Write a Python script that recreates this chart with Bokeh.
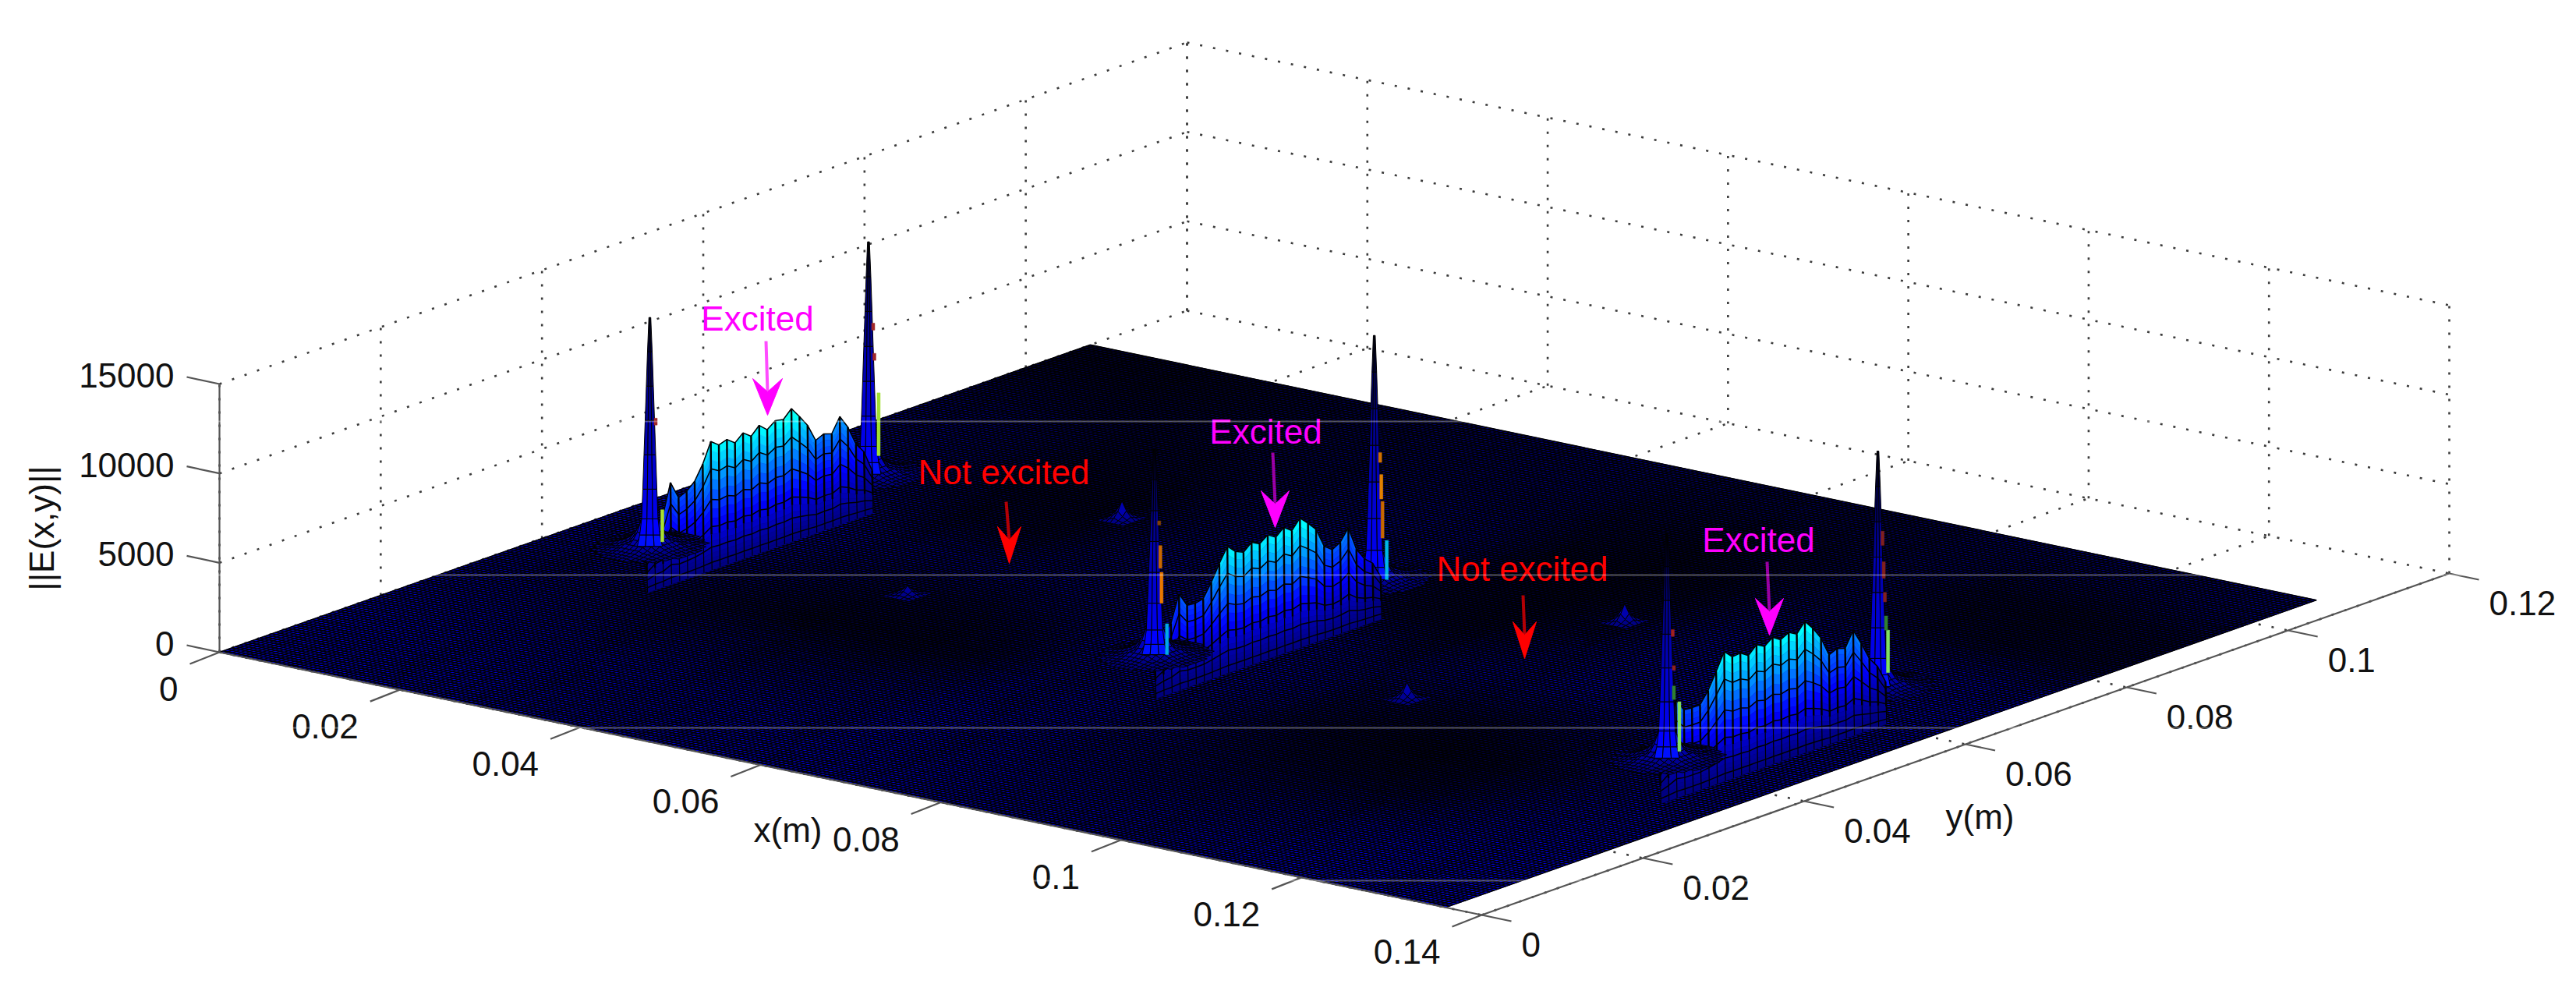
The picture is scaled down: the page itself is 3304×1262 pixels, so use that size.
import numpy as np
from bokeh.plotting import figure
from bokeh.models import Range1d, Span
from bokeh.core.properties import value
from bokeh.embed import file_html
from bokeh.resources import INLINE

# ---------- data ----------
X_TICKS = [0, 0.02, 0.04, 0.06, 0.08, 0.1, 0.12, 0.14]
X_LABELS = ["0", "0.02", "0.04", "0.06", "0.08", "0.1", "0.12", "0.14"]
Y_TICKS = [0, 0.02, 0.04, 0.06, 0.08, 0.1, 0.12]
Y_LABELS = ["0", "0.02", "0.04", "0.06", "0.08", "0.1", "0.12"]
Z_TICKS = [0, 5000, 10000, 15000]
Z_LABELS = ["0", "5000", "10000", "15000"]
X_MAX_SURF = 0.136
Y_MAX_SURF = 0.108

# ridge height along y (1 mm steps, starting 1 mm before the first spike) for each excited slot
RIDGE_1 = [0, 1200, 1500, 3300, 2300, 2500, 2900, 3700, 4800, 4450, 4600, 4250, 4650, 4300, 4750, 4350, 4700, 4600, 5050, 4450, 3800, 2800, 3000, 2850, 3650, 2900, 1800, 1200, 0]
RIDGE_2 = [0, 1000, 1500, 3000, 2200, 2150, 2250, 3000, 3900, 4700, 4250, 4050, 4450, 4200, 4550, 4250, 4650, 4300, 4850, 4400, 3900, 2800, 2450, 2700, 3350, 2000, 1300, 900, 0]
RIDGE_3 = [0, 1300, 3100, 2400, 2350, 2350, 3000, 3900, 4850, 4400, 4450, 4150, 4600, 4350, 4700, 4400, 4650, 4400, 4950, 4400, 3700, 2600, 2800, 2650, 3500, 2600, 1600, 1000, 0]
RIDGE_X = [0.0096, 0.0660, 0.1220]
RIDGE_Y0 = 0.0422
# share of the ridge height left at each row below the crest
FALLOFF = [1.0, 0.93, 0.85, 0.77, 0.68, 0.59, 0.50, 0.42, 0.34, 0.27, 0.21, 0.16, 0.12, 0.08, 0.05, 0.03, 0.01, 0.0]

# spikes: x, y, peak
SPIKE_X = [0.0091, 0.0101, 0.0657, 0.0662, 0.1219, 0.1225]
SPIKE_Y = [0.0432, 0.0692, 0.0425, 0.0692, 0.0432, 0.0687]
SPIKE_Z = [12800, 13000, 11500, 13650, 12600, 13170]
# skirt height round a spike, by ring (0.5 mm rings)
SKIRT = [2400, 1500, 900, 550, 350, 220, 130, 70, 30, 0]
# spike profile: height share and half width
SPIKE_FRAC = [0, 0.05, 0.12, 0.25, 0.40, 0.55, 0.70, 0.85, 1.0]
SPIKE_HALF = [16, 13, 10.5, 9, 7.5, 6, 4.5, 3, 1.2]
SPIKE_SHADE = ["#0010ff", "#0000ff", "#0000e8", "#0000d0", "#0000b0", "#000090", "#000068", "#000048"]
# coloured slivers on the right flank of each spike: from share, to share, colour
SLIVERS = [
    [(0.02, 0.16, "#a8e030"), (0.53, 0.56, "#a02828")],
    [(0.08, 0.35, "#a0e030"), (0.49, 0.52, "#a02828"), (0.62, 0.65, "#a02828")],
    [(0.0, 0.15, "#00a8e8"), (0.25, 0.40, "#e87800"), (0.42, 0.53, "#c86800"), (0.63, 0.65, "#804000")],
    [(0.0, 0.16, "#00b8e8"), (0.17, 0.32, "#c86800"), (0.33, 0.43, "#e08000"), (0.48, 0.52, "#d07000")],
    [(0.03, 0.25, "#80e060"), (0.26, 0.32, "#308030"), (0.39, 0.41, "#902020"), (0.54, 0.57, "#a02020")],
    [(0.06, 0.24, "#80e060"), (0.24, 0.30, "#308030"), (0.36, 0.40, "#802020"), (0.46, 0.53, "#802020"), (0.60, 0.66, "#802020")],
]

# small bumps above the slots that are not excited: x, y, height
MINI_X = [0.0366, 0.0366, 0.0920, 0.0920]
MINI_Y = [0.0444, 0.0710, 0.0444, 0.0714]
MINI_Z = [500, 1000, 900, 1000]
MINI_SHARE = [0, 0.2, 0.5, 1.0, 0.5, 0.2, 0]

# brightness of the floor mesh (0 dark .. 1 bright), rows y = 0..0.108, columns x = 0..0.136
FLOOR = [
    [0.8, 0.8, 0.8, 0.7, 0.7, 0.8, 0.8, 0.8, 0.7, 0.7, 0.7, 0.8, 0.9, 0.9],
    [0.8, 0.8, 0.7, 0.7, 0.7, 0.7, 0.8, 0.7, 0.6, 0.5, 0.5, 0.6, 0.8, 0.9],
    [0.7, 0.6, 0.5, 0.5, 0.4, 0.5, 0.7, 0.7, 0.5, 0.3, 0.2, 0.2, 0.6, 0.8],
    [0.6, 0.5, 0.25, 0.1, 0.1, 0.15, 0.6, 0.7, 0.5, 0.15, 0.05, 0.1, 0.5, 0.8],
    [0.7, 0.6, 0.4, 0.25, 0.2, 0.35, 0.8, 0.8, 0.6, 0.3, 0.2, 0.35, 0.7, 0.8],
    [0.8, 0.8, 0.6, 0.5, 0.5, 0.6, 0.8, 0.7, 0.4, 0.6, 0.7, 0.7, 0.8, 0.8],
    [0.7, 0.6, 0.25, 0.15, 0.5, 0.6, 0.7, 0.2, 0.1, 0.35, 0.7, 0.8, 0.8, 0.8],
    [0.6, 0.4, 0.1, 0.1, 0.4, 0.6, 0.6, 0.15, 0.05, 0.2, 0.6, 0.7, 0.7, 0.7],
    [0.5, 0.35, 0.15, 0.2, 0.4, 0.5, 0.5, 0.15, 0.05, 0.1, 0.5, 0.3, 0.15, 0.2],
    [0.3, 0.2, 0.2, 0.3, 0.35, 0.4, 0.4, 0.2, 0.1, 0.2, 0.4, 0.15, 0.1, 0.2],
    [0.1, 0.1, 0.2, 0.3, 0.35, 0.4, 0.4, 0.3, 0.3, 0.3, 0.4, 0.4, 0.4, 0.5],
]

LABELS_EXCITED = ["Excited", "Excited", "Excited"]
LABELS_NOT = ["Not excited", "Not excited"]

# ---------- page and projection ----------
p = figure(width=3288, height=1246, x_range=Range1d(0, 3288), y_range=Range1d(1246, 0),
           x_axis_type=None, y_axis_type=None, toolbar_location=None,
           output_backend="svg", min_border=0, outline_line_color=None)
FONT = value("Liberation Sans")


def proj(x, y, z=0.0):
    x, y, z = np.asarray(x, float), np.asarray(y, float), np.asarray(z, float)
    sx = 281 + x / 0.14 * 1619 + y / 0.12 * 1241
    sy = 836 + x / 0.14 * 337 - y / 0.12 * 438 - z / 15000 * 344
    return sx, sy


def jet(v):
    v = float(np.clip(v, 0, 1))
    r = np.clip(min(4 * v - 1.5, -4 * v + 4.5), 0, 1)
    g = np.clip(min(4 * v - 0.5, -4 * v + 3.5), 0, 1)
    b = np.clip(min(4 * v + 0.5, -4 * v + 2.5), 0, 1)
    return "#%02x%02x%02x" % (int(r * 255), int(g * 255), int(b * 255))


def zcolor(z):
    return jet(z / 12000)


def seg3d(a, b):
    s = proj(*a)
    e = proj(*b)
    return [float(s[0]), float(e[0])], [float(s[1]), float(e[1])]


# ---------- dotted grids ----------
gx, gy = [], []
zt = Z_TICKS[-1]
xe, ye = X_TICKS[-1], Y_TICKS[-1]
for t in X_TICKS:
    for a, b in [((t, ye, 0), (t, ye, zt)), ((t, 0, 0), (t, ye, 0))]:
        u, v = seg3d(a, b); gx.append(u); gy.append(v)
for t in Y_TICKS:
    for a, b in [((0, t, 0), (0, t, zt)), ((0, t, 0), (xe, t, 0))]:
        u, v = seg3d(a, b); gx.append(u); gy.append(v)
for t in Z_TICKS[1:]:
    for a, b in [((0, 0, t), (0, ye, t)), ((0, ye, t), (xe, ye, t))]:
        u, v = seg3d(a, b); gx.append(u); gy.append(v)
p.multi_line(gx, gy, line_color="#3c3c3c", line_width=2.6, line_dash="3 14")

# ---------- floor: shaded smoothly from the brightness table ----------
rows, cols = len(FLOOR), len(FLOOR[0])
SUB = 4
F = np.array(FLOOR)


def shade(u, v):
    # u, v in table units; soft shading between cell centres
    uu = np.clip(u - 0.5, 0, cols - 1)
    vv = np.clip(v - 0.5, 0, rows - 1)
    i0, j0 = min(int(uu), cols - 2), min(int(vv), rows - 2)
    du, dv = uu - i0, vv - j0
    return ((1 - du) * (1 - dv) * F[j0, i0] + du * (1 - dv) * F[j0, i0 + 1]
            + (1 - du) * dv * F[j0 + 1, i0] + du * dv * F[j0 + 1, i0 + 1])


fx, fy, fc = [], [], []
for j in range(rows * SUB):
    for i in range(cols * SUB):
        x0, x1 = X_MAX_SURF * i / (cols * SUB), X_MAX_SURF * (i + 1) / (cols * SUB)
        y0, y1 = Y_MAX_SURF * j / (rows * SUB), Y_MAX_SURF * (j + 1) / (rows * SUB)
        sx, sy = proj([x0, x1, x1, x0], [y0, y0, y1, y1])
        fx.append(sx.tolist()); fy.append(sy.tolist())
        fc.append("#0000%02x" % int(40 + 215 * shade((i + 0.5) / SUB, (j + 0.5) / SUB)))
p.patches(fx, fy, fill_color=fc, line_color=fc, line_width=1)

lx, ly = [], []
STEP = 0.0005
for t in np.arange(0, X_MAX_SURF + 1e-9, STEP):
    u, v = seg3d((t, 0, 0), (t, Y_MAX_SURF, 0)); lx.append(u); ly.append(v)
for t in np.arange(0, Y_MAX_SURF + 1e-9, STEP):
    u, v = seg3d((0, t, 0), (X_MAX_SURF, t, 0)); lx.append(u); ly.append(v)
p.multi_line(lx, ly, line_color="#000000", line_width=1.45)

# ---------- axes ----------
ax, ay = [], []
for a, b in [((0, 0, 0), (xe, 0, 0)), ((xe, 0, 0), (xe, ye, 0)), ((0, 0, 0), (0, 0, zt))]:
    u, v = seg3d(a, b); ax.append(u); ay.append(v)
for t in X_TICKS:
    sx, sy = proj(t, 0)
    ax.append([float(sx), float(sx) - 38]); ay.append([float(sy), float(sy) + 15])
for t in Y_TICKS:
    sx, sy = proj(xe, t)
    ax.append([float(sx), float(sx) + 38]); ay.append([float(sy), float(sy) + 8])
for t in Z_TICKS:
    sx, sy = proj(0, 0, t)
    ax.append([float(sx), float(sx) - 42]); ay.append([float(sy), float(sy) - 9])
p.multi_line(ax, ay, line_color="#555555", line_width=2.2)

tx = [float(proj(t, 0)[0]) - 53 for t in X_TICKS]
ty = [float(proj(t, 0)[1]) + 47 for t in X_TICKS]
p.text(tx, ty, text=X_LABELS, text_font=FONT, text_font_size="44px", text_align="right",
       text_baseline="middle", text_color="#111111")
tx = [float(proj(xe, t)[0]) + 51 for t in Y_TICKS]
ty = [float(proj(xe, t)[1]) + 38 for t in Y_TICKS]
p.text(tx, ty, text=Y_LABELS, text_font=FONT, text_font_size="44px", text_align="left",
       text_baseline="middle", text_color="#111111")
tx = [float(proj(0, 0, t)[0]) - 58 for t in Z_TICKS]
ty = [float(proj(0, 0, t)[1]) - 11 for t in Z_TICKS]
p.text(tx, ty, text=Z_LABELS, text_font=FONT, text_font_size="44px", text_align="right",
       text_baseline="middle", text_color="#111111")
p.text([1010], [1064], text=["x(m)"], text_font=FONT, text_font_size="44px", text_align="center",
       text_baseline="middle", text_color="#111111")
p.text([2539], [1047], text=["y(m)"], text_font=FONT, text_font_size="44px", text_align="center",
       text_baseline="middle", text_color="#111111")
p.text([53], [677], text=["||E(x,y)||"], angle=np.pi / 2, text_font=FONT, text_font_size="44px",
       text_align="center", text_baseline="middle", text_color="#111111")


# ---------- surface pieces ----------
def draw_mesh(xv, yv, zm, lw=1.0):
    qx, qy, qc = [], [], []
    # far cells first: small x, large y
    for i in range(len(xv) - 1):
        for j in range(len(yv) - 2, -1, -1):
            zz = [zm[i][j], zm[i + 1][j], zm[i + 1][j + 1], zm[i][j + 1]]
            if max(zz) <= 0:
                continue
            sx, sy = proj([xv[i], xv[i + 1], xv[i + 1], xv[i]],
                          [yv[j], yv[j], yv[j + 1], yv[j + 1]], zz)
            qx.append(sx.tolist()); qy.append(sy.tolist())
            qc.append(zcolor(sum(zz) / 4))
    p.patches(qx, qy, fill_color=qc, line_color="#000000", line_width=lw)


def draw_skirt(k):
    n = len(SKIRT)
    offs = [d * 0.0005 for d in range(-n + 1, n)]
    xv = [SPIKE_X[k] + o for o in offs]
    yv = [SPIKE_Y[k] + o for o in offs]
    zm = [[SKIRT[min(n - 1, int(round(np.hypot(i - n + 1, j - n + 1))))] for j in range(len(yv))]
          for i in range(len(xv))]
    draw_mesh(xv, yv, zm, lw=1.0)


def draw_spike(k):
    bx = float(proj(SPIKE_X[k], SPIKE_Y[k])[0])
    Z = SPIKE_Z[k]
    cols_u = [-1, -0.35, 0.35, 1]
    qx, qy, qc = [], [], []
    for lv in range(len(SPIKE_FRAC) - 1):
        y0 = float(proj(SPIKE_X[k], SPIKE_Y[k], Z * SPIKE_FRAC[lv])[1])
        y1 = float(proj(SPIKE_X[k], SPIKE_Y[k], Z * SPIKE_FRAC[lv + 1])[1])
        h0, h1 = SPIKE_HALF[lv], SPIKE_HALF[lv + 1]
        for c in range(3):
            qx.append([bx + cols_u[c] * h0, bx + cols_u[c + 1] * h0,
                       bx + cols_u[c + 1] * h1, bx + cols_u[c] * h1])
            qy.append([y0, y0, y1, y1])
            qc.append(SPIKE_SHADE[lv])
    p.patches(qx, qy, fill_color=qc, line_color="#000000", line_width=1.0)
    sx, sy, sc = [], [], []
    for lo, hi, colr in SLIVERS[k]:
        y0 = float(proj(SPIKE_X[k], SPIKE_Y[k], Z * lo)[1])
        y1 = float(proj(SPIKE_X[k], SPIKE_Y[k], Z * hi)[1])
        idx = int(np.searchsorted(SPIKE_FRAC, lo, side="right")) - 1
        h = SPIKE_HALF[idx]
        sx.append([bx + h - 2, bx + h + 2, bx + h + 2, bx + h - 2])
        sy.append([y0, y0, y1, y1])
        sc.append(colr)
    p.patches(sx, sy, fill_color=sc, line_color=sc, line_width=0.5)


def draw_ridge(ridge, x0):
    # rows run down the front of the ridge, each a little further in +x and -y
    qx, qy, qc = [], [], []
    nr, nc = len(FALLOFF), len(ridge)
    gridx = np.zeros((nr, nc))
    gridy = np.zeros((nr, nc))
    for k, f in enumerate(FALLOFF):
        for j, r in enumerate(ridge):
            sx, sy = proj(x0 + 0.0005 * k, RIDGE_Y0 + 0.001 * j - 0.00055 * k, f * r)
            gridx[k, j], gridy[k, j] = float(sx), float(sy)
    for k in range(nr - 1):
        for j in range(nc - 2, -1, -1):
            qx.append([gridx[k, j], gridx[k, j + 1], gridx[k + 1, j + 1], gridx[k + 1, j]])
            qy.append([gridy[k, j], gridy[k, j + 1], gridy[k + 1, j + 1], gridy[k + 1, j]])
            zm = (FALLOFF[k] + FALLOFF[k + 1]) / 2 * (ridge[j] + ridge[j + 1]) / 2
            qc.append(zcolor(zm))
    p.patches(qx, qy, fill_color=qc, line_color=qc, line_width=0.5)
    mid = 11
    p.multi_line([gridx[:mid, j].tolist() for j in range(nc)], [gridy[:mid, j].tolist() for j in range(nc)],
                 line_color="#000000", line_width=2.4)
    p.multi_line([gridx[mid - 1:, j].tolist() for j in range(nc)], [gridy[mid - 1:, j].tolist() for j in range(nc)],
                 line_color="#000000", line_width=1.2)
    band_rows = [k for k in range(nr) if k % 3 == 0]
    p.multi_line([gridx[k, :].tolist() for k in band_rows], [gridy[k, :].tolist() for k in band_rows],
                 line_color="#000000", line_width=1.5)


for m in range(len(MINI_X)):
    n = len(MINI_SHARE)
    xv = [MINI_X[m] + (d - n // 2) * 0.0005 for d in range(n)]
    yv = [MINI_Y[m] + (d - n // 2) * 0.0005 for d in range(n)]
    zm = [[MINI_Z[m] * a * b for b in MINI_SHARE] for a in MINI_SHARE]
    draw_mesh(xv, yv, zm, lw=1.0)

for z_i, ridge in enumerate([RIDGE_1, RIDGE_2, RIDGE_3]):
    kl, kr = 2 * z_i, 2 * z_i + 1
    draw_skirt(kr)
    draw_spike(kr)
    draw_ridge(ridge, RIDGE_X[z_i])
    draw_skirt(kl)
    draw_spike(kl)

# ---------- image seams seen across the dark surface ----------
for loc in (540, 737, 933, 1129):
    p.add_layout(Span(location=loc, dimension="width", line_color="#ffffff", line_alpha=0.32, line_width=2))


# ---------- annotations ----------
def arrow(x0, y0, x1, y1, hw, col, shaft_alpha):
    p.line([x0, x1], [y0, y1 - 30], line_color=col, line_width=4, line_alpha=shaft_alpha)
    p.patch([x1, x1 + hw, x1, x1 - hw], [y1, y1 - 47, y1 - 30, y1 - 47], fill_color=col, line_color=col, line_width=1)


MAG, RED = "#ff00ff", "#ff0000"
p.text([971, 1623, 2255], [408, 553, 692], text=LABELS_EXCITED, text_font=FONT, text_font_size="44px",
       text_align="center", text_baseline="middle", text_color=MAG)
p.text([1287, 1952], [605, 729], text=LABELS_NOT, text_font=FONT, text_font_size="44px",
       text_align="center", text_baseline="middle", text_color=RED)
arrow(982, 437, 984, 532, 19, MAG, 0.7)
arrow(1632, 580, 1635, 676, 18, MAG, 0.6)
arrow(2266, 720, 2269, 814, 18, MAG, 0.6)
arrow(1290, 643, 1294, 722, 15, RED, 0.7)
arrow(1953, 763, 1955, 844, 15, RED, 0.7)

open("out.html", "w").write(file_html(p, INLINE))
